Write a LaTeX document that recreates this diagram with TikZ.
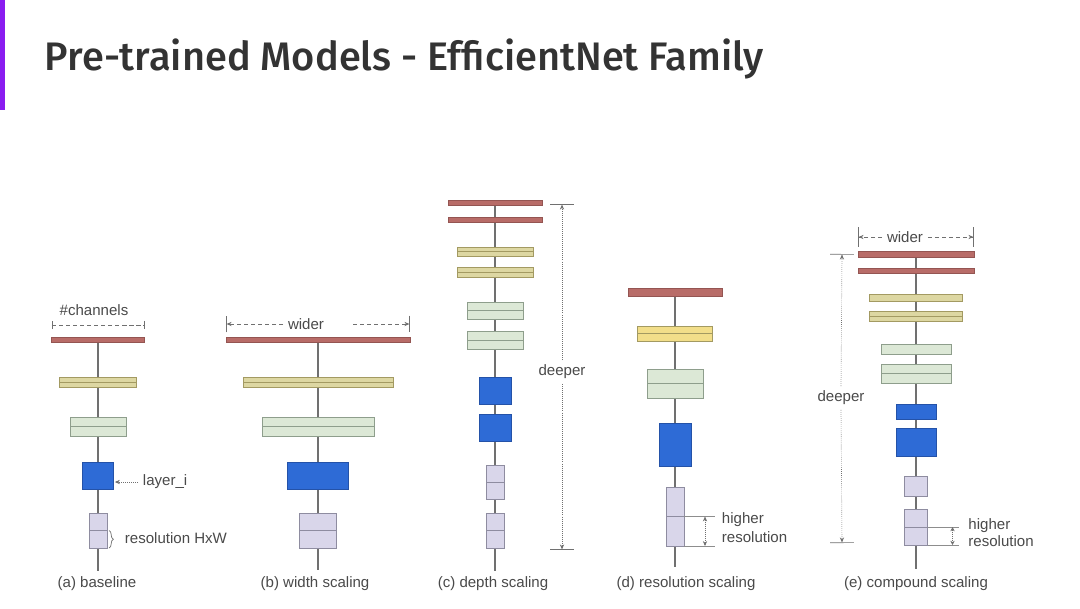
\documentclass[tikz,border=0pt]{standalone}
\usepackage{fontspec}
\setmainfont{Liberation Sans}
\newfontfamily\titlefont{Fira Sans Medium}
\usetikzlibrary{arrows.meta, positioning, calc, backgrounds, decorations.pathreplacing}
\definecolor{efpurple}{HTML}{8A1CF0}
\definecolor{eftitle}{HTML}{333333}
\definecolor{eftext}{HTML}{4A4A4A}
\definecolor{efline}{HTML}{707070}
\definecolor{efred}{HTML}{B86C68}
\definecolor{efredd}{HTML}{945552}
\definecolor{efyel}{HTML}{DDD7A2}
\definecolor{efyeld}{HTML}{A39A62}
\definecolor{efyelb}{HTML}{F2DE8A}
\definecolor{efgrn}{HTML}{DCE8D6}
\definecolor{efgrnd}{HTML}{8E9E8C}
\definecolor{efblu}{HTML}{2E6BD6}
\definecolor{efblud}{HTML}{2452A8}
\definecolor{eflav}{HTML}{D9D6EA}
\definecolor{eflavd}{HTML}{8E8CA0}

\begin{document}
\begin{tikzpicture}[x=0.025cm, y=-0.025cm,
  every node/.style={font=\fontsize{10.7}{13.5}\selectfont, text=eftext},
  blk/.style={rectangle, inner sep=0pt, outer sep=0pt, line width=0.6pt},
  bw/.style={minimum width=#1*0.025cm},
  bh/.style={minimum height=#1*0.025cm},
  redbar/.style={blk, fill=efred, draw=efredd},
  ylwbar/.style={blk, fill=efyel, draw=efyeld},
  grnbox/.style={blk, fill=efgrn, draw=efgrnd},
  blubox/.style={blk, fill=efblu, draw=efblud},
  lavbox/.style={blk, fill=eflav, draw=eflavd},
  midline/.style={path picture={\draw[line width=0.6pt, draw=#1] (path picture bounding box.west) -- (path picture bounding box.east);}},
  spine/.style={draw=efline, line width=0.9pt},
  dimline/.style={draw=efline, densely dashed, line width=0.45pt},
  tick/.style={draw=efline!80, line width=0.4pt},
]
\begin{scope}[on background layer]
\fill[white] (0,0) rectangle (1080,608);
\end{scope}
\useasboundingbox (0,0) rectangle (1080,608);

% Title
\fill[efpurple] (0,0) rectangle (5,110);
\node[anchor=base west, font=\titlefont\fontsize{28.3}{33}\selectfont, text=eftitle] (title) at (40,70) {Pre-trained Models - EfficientNet Family};

% (a) baseline
\node[redbar, bw=93, bh=5] (a1) at (98,339.5) {};
\node[ylwbar, bw=77, bh=10, midline=efyeld] (a2) at (98,382) {};
\node[grnbox, bw=56, bh=19, midline=efgrnd] (a3) at (98,426.5) {};
\node[blubox, bw=31, bh=27] (a4) at (98,475.5) {};
\node[lavbox, bw=18, bh=35, midline=eflavd] (a5) at (98,530.5) {};
\coordinate (a6) at (98,571);

% (b) width scaling
\node[redbar, bw=184, bh=5] (b1) at (318,339.5) {};
\node[ylwbar, bw=150, bh=10, midline=efyeld] (b2) at (318,382) {};
\node[grnbox, bw=112, bh=19, midline=efgrnd] (b3) at (318,426.5) {};
\node[blubox, bw=61, bh=27] (b4) at (318,475.5) {};
\node[lavbox, bw=37, bh=35, midline=eflavd] (b5) at (318,530.5) {};
\coordinate (b6) at (318,570);

% (c) depth scaling
\node[redbar, bw=94, bh=5] (c1) at (495,202.5) {};
\node[redbar, bw=94, bh=5] (c2) at (495,219.5) {};
\node[ylwbar, bw=76, bh=9, midline=efyeld] (c3) at (495,251.5) {};
\node[ylwbar, bw=76, bh=10, midline=efyeld] (c4) at (495,272) {};
\node[grnbox, bw=56, bh=17, midline=efgrnd] (c5) at (495,310.5) {};
\node[grnbox, bw=56, bh=18, midline=efgrnd] (c6) at (495,340) {};
\node[blubox, bw=32, bh=27] (c7) at (495,390.5) {};
\node[blubox, bw=32, bh=27] (c8) at (495,427.5) {};
\node[lavbox, bw=18, bh=34, midline=eflavd] (c9) at (495,482) {};
\node[lavbox, bw=18, bh=35, midline=eflavd] (c10) at (495,530.5) {};
\coordinate (c11) at (495,571);

% (d) resolution scaling
\node[redbar, bw=94, bh=8] (d1) at (675,292) {};
\node[ylwbar, bw=75, bh=15, fill=efyelb, midline=efyeld] (d2) at (675,333.5) {};
\node[grnbox, bw=56, bh=29, midline=efgrnd] (d3) at (675,383.5) {};
\node[blubox, bw=32, bh=43] (d4) at (675,444.5) {};
\node[lavbox, bw=18, bh=59, midline=eflavd] (d5) at (675,516.5) {};
\coordinate (d6) at (675,567);

% (e) compound scaling
\node[redbar, bw=116, bh=6] (e1) at (916,254) {};
\node[redbar, bw=116, bh=5] (e2) at (916,270.5) {};
\node[ylwbar, bw=93, bh=7] (e3) at (916,297.5) {};
\node[ylwbar, bw=93, bh=10, midline=efyeld] (e4) at (916,316) {};
\node[grnbox, bw=70, bh=10] (e5) at (916,349) {};
\node[grnbox, bw=70, bh=19, midline=efgrnd] (e6) at (916,373.5) {};
\node[blubox, bw=40, bh=15] (e7) at (916,411.5) {};
\node[blubox, bw=40, bh=28] (e8) at (916,442) {};
\node[lavbox, bw=23, bh=20] (e9) at (916,486) {};
\node[lavbox, bw=23, bh=36, midline=eflavd] (e10) at (916,527) {};
\coordinate (e11) at (916,569);

% Spines
\begin{scope}[on background layer]
\draw[spine] (a1) -- (a2) -- (a3) -- (a4) -- (a5) -- (a6);
\draw[spine] (b1) -- (b2) -- (b3) -- (b4) -- (b5) -- (b6);
\draw[spine] (c1) -- (c2) -- (c3) -- (c4) -- (c5) -- (c6) -- (c7) -- (c8) -- (c9) -- (c10) -- (c11);
\draw[spine] (d1) -- (d2) -- (d3) -- (d4) -- (d5) -- (d6);
\draw[spine] (e1) -- (e2) -- (e3) -- (e4) -- (e5) -- (e6) -- (e7) -- (e8) -- (e9) -- (e10) -- (e11);
\end{scope}

% Annotations (a)
\node (chan) at (94,310) {\#channels};
\coordinate (chanl) at (98,325);
\draw[dimline, {Bar[width=6pt]}-{Bar[width=6pt]}] (a1.west |- chanl) -- (a1.east |- chanl);
\node[anchor=west] (layeri) at (138,482) {layer\_i};
\draw[dimline, densely dotted, -{Stealth[length=3.5pt, width=3pt]}] (layeri.west) -- ([xshift=1pt]a4.east |- layeri.west);
\draw[draw=efline, line width=0.5pt, decorate, decoration={brace, amplitude=3pt}] ([xshift=1.5pt]a5.east) -- ([xshift=1.5pt]a5.south east);
\node[anchor=west] (resa) at (120,538) {resolution HxW};

% Annotations (b)
\node (widerb) at (306,324) {wider};
\coordinate (widerbr) at (353,324);
\draw[dimline, -{Stealth[length=3.5pt, width=3pt]Bar[width=12pt]}] (widerb.west) -- (b1.west |- widerb);
\draw[dimline, -{Stealth[length=3.5pt, width=3pt]Bar[width=12pt]}] (widerbr) -- (b1.east |- widerb);

% Annotations (c)
\node (deepc) at (562,372) {deeper};
\coordinate (deepct) at (562,204);
\coordinate (deepcb) at (562,550);
\draw[dimline, densely dotted, -{Stealth[length=3.5pt, width=3pt]Bar[width=17pt]}] (deepc.north) -- (deepct);
\draw[dimline, densely dotted, -{Stealth[length=3.5pt, width=3pt]Bar[width=17pt]}] (deepc.south) -- (deepcb);

% Annotations (d)
\draw[tick] (d5.east) -- ($(d5.east)+(31,0)$);
\draw[tick] (d5.south east) -- ($(d5.south east)+(31,0)$);
\draw[dimline, densely dotted, {Stealth[length=3.5pt, width=3pt]}-{Stealth[length=3.5pt, width=3pt]}] ($(d5.east)+(21,0)$) -- ($(d5.south east)+(21,0)$);
\node[anchor=west, align=left] (hresd) at ($(d5.east)+(33,11)$) {higher\\resolution};

% Annotations (e)
\node (widere) at (905,237) {wider};
\draw[dimline, -{Stealth[length=3.5pt, width=3pt]Bar[width=14pt]}] (widere.west) -- (e1.west |- widere);
\draw[dimline, -{Stealth[length=3.5pt, width=3pt]Bar[width=14pt]}] (widere.east) -- (e1.east |- widere);
\node (deepe) at (841,398) {deeper};
\coordinate (deepet) at (842,254);
\coordinate (deepeb) at (842,543);
\draw[dimline, densely dotted, -{Stealth[length=3.5pt, width=3pt]Bar[width=17pt]}] (deepe.north) -- (deepet);
\draw[dimline, densely dotted, -{Stealth[length=3.5pt, width=3pt]Bar[width=17pt]}] (deepe.south) -- (deepeb);
\draw[tick] (e10.east) -- ($(e10.east)+(31,0)$);
\draw[tick] (e10.south east) -- ($(e10.south east)+(31,0)$);
\draw[dimline, densely dotted, {Stealth[length=3pt, width=3pt]}-{Stealth[length=3pt, width=3pt]}] ($(e10.east)+(25,0)$) -- ($(e10.south east)+(25,0)$);
\node[anchor=west, align=left, font=\fontsize{10.7}{12.5}\selectfont] (hrese) at ($(e10.east)+(36,5.5)$) {higher\\resolution};

% Captions
\node (capa) at (97,584) {(a) baseline};
\node (capb) at (315,584) {(b) width scaling};
\node (capc) at (493,584) {(c) depth scaling};
\node (capd) at (686,584) {(d) resolution scaling};
\node (cape) at (916,584) {(e) compound scaling};
\end{tikzpicture}
\end{document}
